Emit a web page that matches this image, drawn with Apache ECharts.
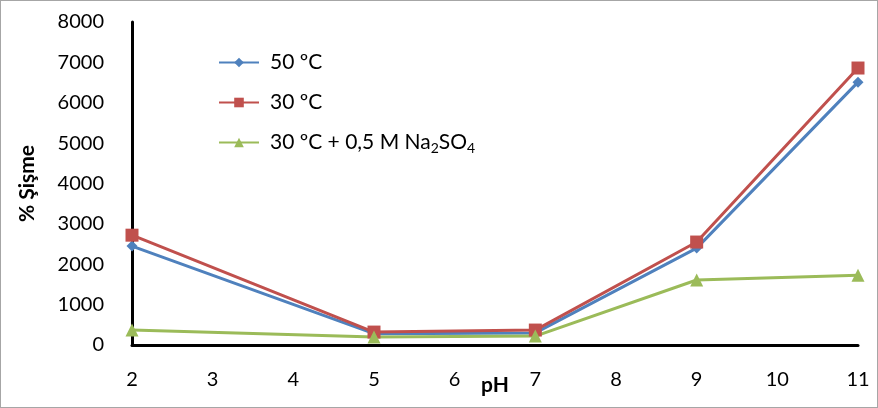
<!DOCTYPE html>
<html><head><meta charset="utf-8">
<script src="https://cdn.jsdelivr.net/npm/echarts@6/dist/echarts.min.js"></script>
<style>html,body{margin:0;padding:0;background:#fff}#c{width:878px;height:408px;box-sizing:border-box;border:1px solid #a6a6a6}</style>
</head><body><div id="c"></div>
<script>
const phValues = [2, 5, 7, 9, 11];
const s50 = [2450, 280, 300, 2400, 6510];
const s30 = [2720, 320, 370, 2550, 6860];
const s30salt = [370, 200, 220, 1610, 1730];
const seriesNames = ['50 ºC', '30 ºC', '30 ºC + 0,5 M Na2SO4'];
const yTicks = {min: 0, max: 8000, interval: 1000};
const xTicks = {min: 2, max: 11, interval: 1};

const font = 'Lato, "Open Sans", sans-serif';
const pair = (ys) => phValues.map((x, i) => [x, ys[i]]);
const chart = echarts.init(document.getElementById('c'));
chart.setOption({
  animation: false,
  grid: {left: 131, right: 19, top: 21, bottom: 62, outerBoundsMode: 'none', containLabel: false},
  legend: {
    orient: 'vertical', left: 212, top: 46, itemGap: 19, itemWidth: 40, itemHeight: 12,
    data: seriesNames,
    formatter: function (n) {
      if (n === seriesNames[2]) return '30 ºC + 0,5 M Na{s|2}SO{s|4}';
      return n;
    },
    textStyle: {fontFamily: font, fontSize: 21, color: '#000', padding: [0, 0, 0, 6],
      rich: {s: {fontFamily: font, fontSize: 14, color: '#000', verticalAlign: 'bottom', padding: [12, 0, 0, 0]}}}
  },
  xAxis: {
    type: 'value', min: xTicks.min, max: xTicks.max, interval: xTicks.interval,
    name: 'pH', nameLocation: 'middle', nameGap: 30, nameMoveOverlap: false,
    nameTextStyle: {fontFamily: font, fontSize: 21, fontWeight: 'bold', color: '#000'},
    axisLine: {lineStyle: {color: '#000', width: 3}},
    axisTick: {show: false}, splitLine: {show: false},
    axisLabel: {fontFamily: font, fontSize: 20, color: '#000', margin: 25}
  },
  yAxis: {
    type: 'value', min: yTicks.min, max: yTicks.max, interval: yTicks.interval,
    name: '% Şişme', nameLocation: 'middle', nameGap: 94, nameRotate: 90, nameMoveOverlap: false,
    nameTextStyle: {fontFamily: font, fontSize: 21, fontWeight: 'bold', color: '#000'},
    axisLine: {show: true, lineStyle: {color: '#000', width: 3}},
    axisTick: {show: false}, splitLine: {show: false},
    axisLabel: {fontFamily: font, fontSize: 20, color: '#000', margin: 28, formatter: (v) => String(v)}
  },
  series: [
    {name: seriesNames[0], type: 'line', data: pair(s50), symbol: 'diamond', symbolSize: 11,
      lineStyle: {color: '#4F81BD', width: 3}, itemStyle: {color: '#4F81BD'}},
    {name: seriesNames[1], type: 'line', data: pair(s30), symbol: 'rect', symbolSize: 13,
      lineStyle: {color: '#C0504D', width: 3}, itemStyle: {color: '#C0504D'}},
    {name: seriesNames[2], type: 'line', data: pair(s30salt), symbol: 'triangle', symbolSize: 13,
      lineStyle: {color: '#9BBB59', width: 3}, itemStyle: {color: '#9BBB59'}}
  ]
});
</script></body></html>
